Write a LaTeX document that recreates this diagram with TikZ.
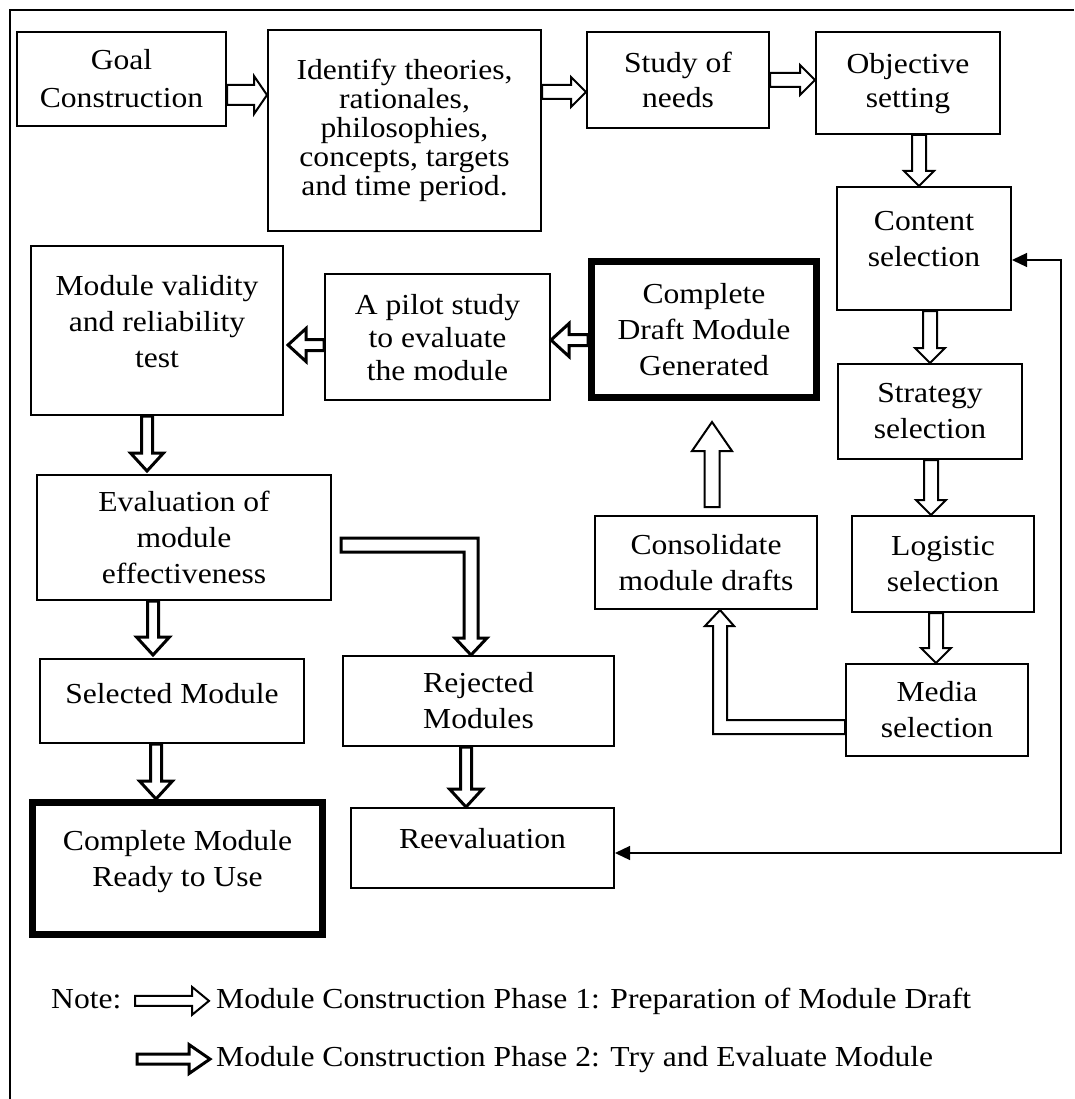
\documentclass[tikz,border=0pt]{standalone}
\usepackage{fontspec}
\setmainfont{Liberation Serif}[FakeStretch=1.09]
\usetikzlibrary{calc,arrows.meta}

\tikzset{
    shaft/.store in=\arShaft, head/.store in=\arHead, tip/.store in=\arTip,
    shaft=7pt, head=15pt, tip=15pt,
    box/.style={draw, line width=2pt, align=center, inner sep=2pt,
        font=\fontsize{29}{36}\selectfont},
    thickbox/.style={box, line width=7pt},
    legend/.style={inner sep=0pt, font=\fontsize{29}{36}\selectfont},
    fat/.style={fill=white, line join=miter, to path={
        let \p1=(\tikztostart), \p2=(\tikztotarget),
            \n1={atan2(\y2-\y1,\x2-\x1)}, \n2={veclen(\x2-\x1,\y2-\y1)} in
        ([shift={(\p1)},rotate=\n1]0pt,\arShaft)
        -- ([shift={(\p1)},rotate=\n1]\n2-\arTip,\arShaft)
        -- ([shift={(\p1)},rotate=\n1]\n2-\arTip,\arHead)
        -- ([shift={(\p1)},rotate=\n1]\n2,0pt)
        -- ([shift={(\p1)},rotate=\n1]\n2-\arTip,-\arHead)
        -- ([shift={(\p1)},rotate=\n1]\n2-\arTip,-\arShaft)
        -- ([shift={(\p1)},rotate=\n1]0pt,-\arShaft) -- cycle}},
    phaseone/.style={fat, draw, line width=2pt},
    phasetwo/.style={fat, draw, line width=3pt, shaft=5.5pt, head=16.5pt, tip=18pt},
    feedback/.style={line width=1.3pt,
        {Triangle[length=15pt,width=14pt]}-{Triangle[length=15pt,width=14pt]}},
}

\begin{document}
\begin{tikzpicture}[x=1pt, y=-1pt]

    \newcommand{\fbX}{1061}

    \useasboundingbox (0,0) rectangle (1074,1099);
    \draw[line width=2pt] (10,1099) -- (10,10) -- (1074,10); % frame

    % phase 1 boxes
    \node[box, minimum width=209pt, minimum height=94pt, font=\fontsize{29}{38}\selectfont] (goal) at (121.5,79) {Goal\\Construction};
    \node[box, minimum width=273pt, minimum height=201pt, font=\fontsize{29}{29}\selectfont] (ident) at (404.5,130.5)
        {Identify theories,\\rationales,\\philosophies,\\concepts, targets\\and time period.};
    \node[box, minimum width=182pt, minimum height=96pt, font=\fontsize{29}{35}\selectfont] (study) at (678,80) {Study of\\needs};
    \node[box, minimum width=184pt, minimum height=102pt, font=\fontsize{29}{34}\selectfont, text depth=6pt] (obj) at (908,83) {Objective\\setting};
    \node[box, minimum width=174pt, minimum height=123pt, text depth=20pt] (content) at (924,248.5) {Content\\selection};
    \node[box, minimum width=184pt, minimum height=95pt] (strategy) at (930,411.5) {Strategy\\selection};
    \node[box, minimum width=182pt, minimum height=96pt] (logistic) at (943,564) {Logistic\\selection};
    \node[box, minimum width=182pt, minimum height=92pt] (media) at (937,710) {Media\\selection};
    \node[box, minimum width=222pt, minimum height=93pt] (consol) at (706,562.5) {Consolidate\\module drafts};
    \node[thickbox, minimum width=225pt, minimum height=136pt] (draft) at (704,329.5) {Complete\\Draft Module\\Generated};

    % phase 2 boxes
    \node[box, minimum width=225pt, minimum height=126pt, font=\fontsize{29}{33}\selectfont, text depth=-14pt] (pilot) at (437.5,337)
        {A pilot study\\to evaluate\\the module};
    \node[box, minimum width=252pt, minimum height=169pt, text depth=18pt] (valid) at (157,330.5) {Module validity\\and reliability\\test};
    \node[box, minimum width=294pt, minimum height=125pt] (eval) at (184,537.5) {Evaluation of\\module\\effectiveness};
    \node[box, minimum width=264pt, minimum height=84pt, text depth=16pt] (selected) at (172,701) {Selected Module};
    \node[box, minimum width=271pt, minimum height=90pt] (rej) at (478.5,701) {Rejected\\Modules};
    \node[thickbox, minimum width=290pt, minimum height=132pt, text depth=20pt] (ready) at (177.5,868.5) {Complete Module\\Ready to Use};
    \node[box, minimum width=263pt, minimum height=80pt, text depth=20pt] (reeval) at (482.5,848) {Reevaluation};

    % phase 1 arrows
    \draw[phaseone, shaft=10pt, head=19pt, tip=13pt] ([yshift=-16pt]goal.east) to ([yshift=35.5pt]ident.west);
    \draw[phaseone] ([yshift=38.5pt]ident.east) to ([yshift=-12pt]study.west);
    \draw[phaseone] (study.east) to ([yshift=3pt]obj.west);
    \draw[phaseone] ([xshift=11pt]obj.south) to ([xshift=-5pt]content.north);
    \draw[phaseone] ([xshift=6pt]content.south) to (strategy.north);
    \draw[phaseone] ([xshift=1pt]strategy.south) to ([xshift=-12pt]logistic.north);
    \draw[phaseone] ([xshift=-7pt]logistic.south) to ([xshift=-1pt]media.north);
    \draw[phaseone, shaft=7.5pt, head=20pt, tip=29pt] ([xshift=6pt,yshift=8pt]consol.north) to ([xshift=8pt,yshift=-21pt]draft.south);

    % media -> consolidate, bent
    \path ($(consol.south)+(14,0)$) coordinate (mtip) ([yshift=-17pt]media.west) coordinate (mtail);
    \draw[line width=2pt, fill=white] (mtail) ++(0,-7) -| ($(mtip)+(7,16)$) -- ++(7,0) -- (mtip)
        -- ++(-15,16) -- ++(8,0) |- ($(mtail)+(0,7)$) -- cycle;

    % phase 2 arrows
    \draw[phasetwo] ([yshift=-10.5pt]draft.west) to ([yshift=-3pt]pilot.east);
    \draw[phasetwo] ([yshift=-8pt]pilot.west) to ([xshift=4pt,yshift=-14.5pt]valid.east);
    \draw[phasetwo] ([xshift=-10pt]valid.south) to ([xshift=-37pt,yshift=3pt]eval.north);
    \draw[phasetwo] ([xshift=-31pt]eval.south) to ([xshift=-19pt,yshift=3pt]selected.north);
    \draw[phasetwo] ([xshift=-16pt]selected.south) to ([xshift=-21.5pt]ready.north);
    \draw[phasetwo] ([xshift=-12.5pt]rej.south) to ([xshift=-16.5pt]reeval.north);

    % evaluation -> rejected, bent
    \path ([xshift=9pt,yshift=-7.5pt]eval.east) coordinate (etail) ([xshift=-7.5pt]rej.north) coordinate (etip);
    \draw[line width=3pt, fill=white] (etail) ++(0,-7) -| ($(etip)+(7,-17)$) -- ++(9,0) -- (etip)
        -- ++(-16,-17) -- ++(9,0) |- ($(etail)+(0,7)$) -- cycle;

    % feedback line
    \coordinate (fbtop) at (\fbX,260);
    \coordinate (fbbot) at (\fbX,853);
    \draw[feedback] (fbtop -| content.east) -- (fbtop) -- (fbbot) -- (fbbot -| reeval.east);

    % legend
    \node[legend, anchor=base west] (note) at (51,1008) {Note:};
    \node[legend, anchor=base west] (phone) at (216,1008) {Module Construction Phase 1: Preparation of Module Draft};
    \node[legend, anchor=base west] (phtwo) at (216,1066) {Module Construction Phase 2: Try and Evaluate Module};
    \draw[phaseone, shaft=5pt, head=14pt, tip=17pt] ([xshift=-81pt]phone.west) to ([xshift=-7pt]phone.west);
    \draw[phasetwo, shaft=5pt, head=14.5pt, tip=21pt] ([xshift=-79pt]phtwo.west) to ([xshift=-6pt]phtwo.west);

\end{tikzpicture}
\end{document}
